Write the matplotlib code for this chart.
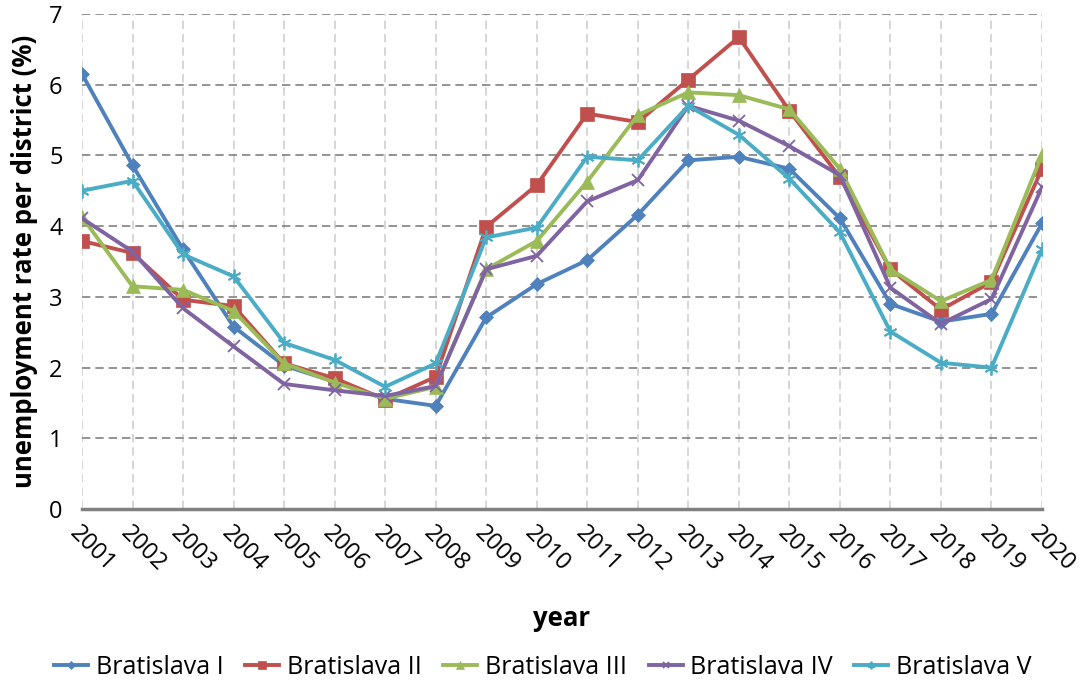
import numpy as np
import matplotlib
matplotlib.use("Agg")
import matplotlib.pyplot as plt

plt.rcParams['font.family'] = ['Open Sans', 'DejaVu Sans']

years = list(range(2001, 2021))
nazwy = ["Bratislava I", "Bratislava II", "Bratislava III", "Bratislava IV", "Bratislava V"]

ba1 = [6.15, 4.86, 3.67, 2.58, 2.03, 1.80, 1.56, 1.46, 2.71, 3.18,
       3.52, 4.16, 4.93, 4.98, 4.81, 4.11, 2.90, 2.65, 2.76, 4.04]
ba2 = [3.79, 3.62, 2.96, 2.87, 2.06, 1.85, 1.55, 1.87, 3.99, 4.58,
       5.59, 5.47, 6.07, 6.67, 5.63, 4.69, 3.39, 2.82, 3.21, 4.81]
ba3 = [4.13, 3.15, 3.10, 2.80, 2.06, 1.79, 1.56, 1.73, 3.39, 3.79,
       4.63, 5.57, 5.89, 5.85, 5.65, 4.81, 3.39, 2.94, 3.24, 5.01]
ba4 = [4.11, 3.64, 2.84, 2.30, 1.77, 1.68, 1.60, 1.74, 3.39, 3.58,
       4.35, 4.65, 5.70, 5.49, 5.13, 4.72, 3.13, 2.62, 2.97, 4.55]
ba5 = [4.50, 4.64, 3.60, 3.29, 2.35, 2.11, 1.73, 2.06, 3.84, 3.98,
       4.98, 4.93, 5.70, 5.29, 4.67, 3.91, 2.51, 2.07, 2.00, 3.67]

serie = [ba1, ba2, ba3, ba4, ba5]
kolory = ["#4F81BD", "#C0504D", "#9BBB59", "#8064A2", "#4BACC6"]
znaczniki = ["D", "s", "^", "x", (6, 2, 0)]
rozmiary = [7, 10, 10, 9, 10]

fig = plt.figure(figsize=(10.86, 6.9), dpi=100)
ax = fig.add_axes([0.0755, 0.262, 0.884, 0.718])

for dane, nazwa, kolor, zn, rs in zip(serie, nazwy, kolory, znaczniki, rozmiary):
    ax.plot(years, dane, color=kolor, marker=zn, markersize=rs, linewidth=2.8,
            markeredgewidth=1.3 if zn in ("x", (6, 2, 0)) else 0.5,
            markeredgecolor=kolor, label=nazwa, zorder=3)

ax.set_xlim(2001, 2020)
ax.set_ylim(0, 7)
ax.set_xticks(years)
ax.set_yticks(range(0, 8))
ax.set_xticklabels([str(y) for y in years], rotation=-45, ha='left', va='top',
                   rotation_mode='anchor', fontsize=17)
ax.tick_params(axis='y', labelsize=17, length=0, pad=14)
ax.tick_params(axis='x', length=0, pad=9)

ax.yaxis.grid(True, color='#808080', linestyle=(0, (5, 3)), linewidth=1.2)
ax.xaxis.grid(True, color='#d0d0d0', linestyle=(0, (5, 3)), linewidth=1.2)
ax.set_axisbelow(True)
for s in ['top', 'right', 'left']:
    ax.spines[s].set_visible(False)
ax.spines['bottom'].set_color('#808080')
ax.spines['bottom'].set_linewidth(2.5)

ax.set_ylabel('unemployment rate per district (%)', fontsize=18.5, fontweight='bold', labelpad=8)
ax.set_xlabel('year', fontsize=18.5, fontweight='bold', labelpad=20)

fig.legend(loc='center', bbox_to_anchor=(0.5, 0.033), ncol=5, frameon=False,
           fontsize=18, handlelength=1.36, columnspacing=0.85, handletextpad=0.32,
           markerscale=0.55)

fig.savefig("out.png", dpi=100)
plt.close()
